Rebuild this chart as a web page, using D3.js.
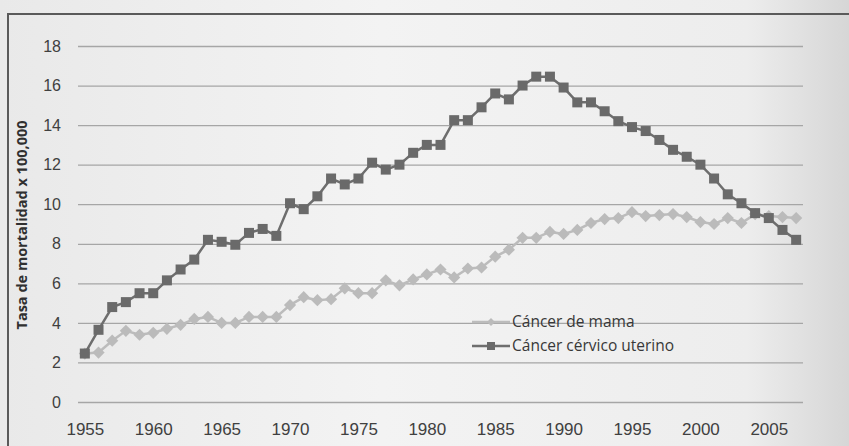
<!DOCTYPE html>
<html>
<head>
<meta charset="utf-8">
<script src="https://cdn.jsdelivr.net/npm/d3@7"></script>
<style>
  body { margin: 0; background: #ebebeb; }
  svg { display: block; font-family: "Open Sans", sans-serif; }
  .tick text { fill: #404040; }
</style>
</head>
<body>
<div id="chart"></div>
<script>
// Data
const years = d3.range(1955, 2008);
const mama = [2.45, 2.5, 3.1, 3.6, 3.4, 3.5, 3.7, 3.9, 4.2, 4.3,
  4.0, 4.0, 4.3, 4.3, 4.3, 4.9, 5.3, 5.15, 5.2, 5.75,
  5.5, 5.5, 6.15, 5.9, 6.2, 6.45, 6.7, 6.3, 6.75, 6.8,
  7.35, 7.7, 8.3, 8.3, 8.6, 8.5, 8.7, 9.05, 9.25, 9.3,
  9.6, 9.4, 9.45, 9.5, 9.35, 9.1, 9.0, 9.3, 9.05, 9.5,
  9.4, 9.35, 9.3];
const cervico = [2.45, 3.65, 4.8, 5.05, 5.5, 5.5, 6.15, 6.7, 7.2, 8.2,
  8.1, 7.95, 8.55, 8.75, 8.4, 10.05, 9.75, 10.4, 11.3, 11.0,
  11.3, 12.1, 11.75, 12.0, 12.6, 13.0, 13.0, 14.25, 14.25, 14.9,
  15.6, 15.3, 16.0, 16.45, 16.45, 15.9, 15.15, 15.15, 14.7, 14.2,
  13.9, 13.7, 13.25, 12.75, 12.4, 12.0, 11.3, 10.5, 10.05, 9.55,
  9.3, 8.7, 8.2];
const yTicks = [0, 2, 4, 6, 8, 10, 12, 14, 16, 18];
const xTicks = [1955, 1960, 1965, 1970, 1975, 1980, 1985, 1990, 1995, 2000, 2005];
const seriesNames = ["Cáncer de mama", "Cáncer cérvico uterino"];

const width = 849, height = 446;
const margin = { top: 46, right: 46, bottom: 44, left: 78 };

const svg = d3.select("#chart").append("svg")
  .attr("width", width)
  .attr("height", height);

// photo-like background
const grad = svg.append("defs").append("linearGradient")
  .attr("id", "bg").attr("x1", 0).attr("x2", 1).attr("y1", 0).attr("y2", 0);
grad.append("stop").attr("offset", "0%").attr("stop-color", "#e9e9e9");
grad.append("stop").attr("offset", "45%").attr("stop-color", "#f3f3f3");
grad.append("stop").attr("offset", "88%").attr("stop-color", "#ededed");
grad.append("stop").attr("offset", "100%").attr("stop-color", "#d6d6d6");

svg.append("rect").attr("width", width).attr("height", height).attr("fill", "url(#bg)");

// frame
svg.append("path")
  .attr("d", "M8," + height + "V14H" + width)
  .attr("fill", "none")
  .attr("stroke", "#5a5a5a")
  .attr("stroke-width", 2);

const x = d3.scalePoint()
  .domain(years)
  .range([margin.left, width - margin.right])
  .padding(0.5);

const y = d3.scaleLinear()
  .domain([0, 18])
  .range([height - margin.bottom, margin.top]);

// y axis with gridlines
const yAxis = svg.append("g")
  .attr("transform", "translate(" + margin.left + ",0)")
  .call(d3.axisLeft(y)
    .tickValues(yTicks)
    .tickSize(-(width - margin.left - margin.right))
    .tickPadding(17));
yAxis.select(".domain").remove();
yAxis.selectAll("line").attr("stroke", "#a6a6a6").attr("stroke-width", 1.3);
yAxis.selectAll("text").attr("font-size", 16);

// x axis
const xAxis = svg.append("g")
  .attr("transform", "translate(0," + (height - margin.bottom) + ")")
  .call(d3.axisBottom(x).tickValues(xTicks).tickSize(0).tickPadding(21));
xAxis.select(".domain").remove();
xAxis.selectAll("text").attr("font-size", 17);

// y axis title
svg.append("text")
  .attr("transform", "translate(27,225) rotate(-90)")
  .attr("text-anchor", "middle")
  .attr("font-size", 14.5)
  .attr("font-weight", "bold")
  .attr("fill", "#303030")
  .text("Tasa de mortalidad x 100,000");

const line = d3.line()
  .x((d, i) => x(years[i]))
  .y(d => y(d));

// Cáncer de mama
svg.append("path")
  .datum(mama)
  .attr("fill", "none")
  .attr("stroke", "#bcbcbc")
  .attr("stroke-width", 2.5)
  .attr("d", line);

svg.selectAll(".mama")
  .data(mama)
  .enter()
  .append("path")
  .attr("class", "mama")
  .attr("transform", (d, i) => "translate(" + x(years[i]) + "," + y(d) + ")")
  .attr("d", d3.symbol(d3.symbolDiamond2, 95))
  .attr("fill", "#bbbbbb");

// Cáncer cérvico uterino
svg.append("path")
  .datum(cervico)
  .attr("fill", "none")
  .attr("stroke", "#6e6e6e")
  .attr("stroke-width", 2.5)
  .attr("d", line);

svg.selectAll(".cervico")
  .data(cervico)
  .enter()
  .append("rect")
  .attr("class", "cervico")
  .attr("x", (d, i) => x(years[i]) - 5)
  .attr("y", d => y(d) - 5)
  .attr("width", 10)
  .attr("height", 10)
  .attr("fill", "#6a6a6a");

// Legend
const legend = svg.append("g").attr("transform", "translate(472,322)");
const legendColors = ["#bcbcbc", "#6e6e6e"];
seriesNames.forEach(function(name, i) {
  const g = legend.append("g").attr("transform", "translate(0," + i * 24 + ")");
  g.append("line")
    .attr("x1", 0).attr("x2", 38)
    .attr("stroke", legendColors[i])
    .attr("stroke-width", 2.5);
  if (i === 0) {
    g.append("path")
      .attr("transform", "translate(19,0)")
      .attr("d", d3.symbol(d3.symbolDiamond2, 40))
      .attr("fill", "#bbbbbb");
  } else {
    g.append("rect")
      .attr("x", 15).attr("y", -4).attr("width", 8).attr("height", 8)
      .attr("fill", "#6a6a6a");
  }
  g.append("text")
    .attr("x", 40)
    .attr("dy", "0.35em")
    .attr("font-size", 15.5)
    .attr("fill", "#383838")
    .text(name);
});
</script>
</body>
</html>
